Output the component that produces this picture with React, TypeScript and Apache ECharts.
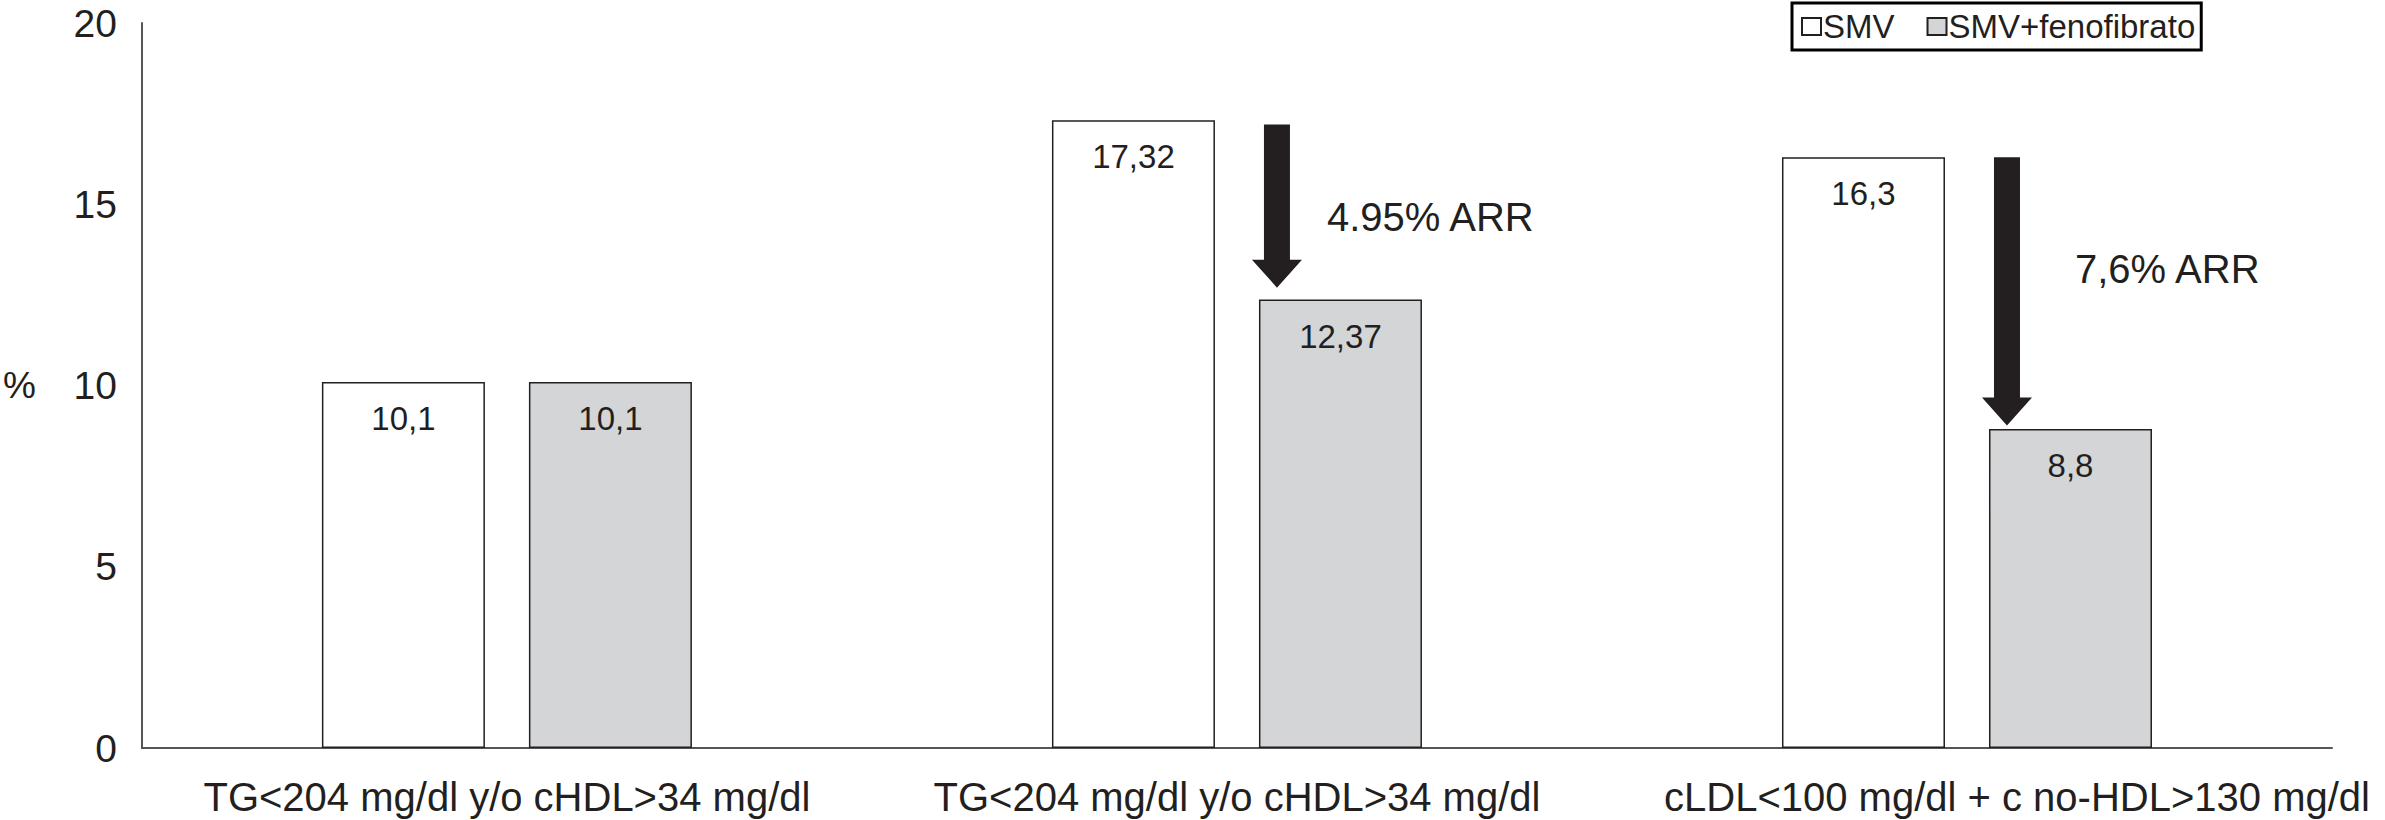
import React, { useEffect, useRef } from "react";
import * as echarts from "echarts";

const categories = [
  "TG<204 mg/dl y/o cHDL>34 mg/dl",
  "TG<204 mg/dl y/o cHDL>34 mg/dl",
  "cLDL<100 mg/dl + c no-HDL>130 mg/dl",
];
const seriesNames = ["SMV", "SMV+fenofibrato"];
const smvValues = [10.1, 17.32, 16.3];
const fenoValues = [10.1, 12.37, 8.8];
const arrowCategory = [1, 2];
const arrowFrom = [17.2, 16.3];
const arrowTo = [12.7, 8.9];
const arrowText = ["4.95% ARR", "7,6% ARR"];
const yTicks = [0, 5, 10, 15, 20];

const FONT = "'Liberation Sans', Arial, Helvetica, sans-serif";
const INK = "#231f20";

export default function App() {
  const ref = useRef<HTMLDivElement>(null);
  useEffect(() => {
    document.body.style.margin = "0";
    const chart = echarts.init(ref.current!, null, { renderer: "svg" });
    const arrowData = arrowCategory.map((c, i) => [c, arrowFrom[i], arrowTo[i], i]);
    const fmt = (p: any) => String(p.value).replace(".", ",");
    const xData = categories.map((c, i) =>
      i === categories.length - 1 ? { value: c, textStyle: { padding: [0, 0, 0, 100] } } : c
    );
    const valueLabel = {
      show: true,
      position: "insideTop",
      distance: 20,
      fontSize: 33,
      color: INK,
      fontFamily: FONT,
      formatter: fmt,
    };
    chart.setOption({
      animation: false,
      textStyle: { fontFamily: FONT },
      grid: { left: 141, right: 53, top: 23, bottom: 72, containLabel: false },
      legend: {
        left: 1792,
        top: 3,
        data: seriesNames,
        icon: "rect",
        itemWidth: 19,
        itemHeight: 17,
        itemGap: 32,
        padding: [7, 6, 7, 9],
        borderColor: "#000",
        borderWidth: 3,
        textStyle: { fontSize: 33, color: INK, fontFamily: FONT, padding: [0, 0, 0, -3] },
      },
      xAxis: {
        type: "category",
        data: xData,
        axisLine: { show: true, lineStyle: { color: "#555", width: 2 } },
        axisTick: { show: false },
        axisLabel: { fontSize: 40, color: INK, margin: 29, fontFamily: FONT, interval: 0 },
      },
      yAxis: {
        type: "value",
        min: yTicks[0],
        max: yTicks[yTicks.length - 1],
        interval: 5,
        name: "%",
        nameLocation: "middle",
        nameRotate: 0,
        nameGap: 106,
        nameTextStyle: { fontSize: 37, color: INK, fontFamily: FONT },
        axisLine: { show: true, lineStyle: { color: "#555", width: 2 } },
        axisTick: { show: false },
        splitLine: { show: false },
        axisLabel: { fontSize: 39, color: INK, margin: 25, fontFamily: FONT },
      },
      series: [
        {
          name: seriesNames[0],
          type: "bar",
          data: smvValues,
          barWidth: 163,
          barGap: "27%",
          itemStyle: { color: "#ffffff", borderColor: INK, borderWidth: 1.5 },
          label: valueLabel,
        },
        {
          name: seriesNames[1],
          type: "bar",
          data: fenoValues,
          barWidth: 163,
          barGap: "27%",
          itemStyle: { color: "#d4d5d7", borderColor: INK, borderWidth: 1.5 },
          label: valueLabel,
        },
        {
          type: "custom",
          coordinateSystem: "cartesian2d",
          data: arrowData,
          encode: { x: 0, y: 1 },
          clip: false,
          z: 10,
          silent: true,
          renderItem: (params: any, api: any) => {
            const top = api.coord([api.value(0), api.value(1)]);
            const tip = api.coord([api.value(0), api.value(2)]);
            const idx = api.value(3);
            const cx = top[0] + 40;
            const shaft = 13;
            const head = 25;
            const headH = 28;
            const ty = top[1];
            const py = tip[1];
            return {
              type: "group",
              children: [
                {
                  type: "polygon",
                  shape: {
                    points: [
                      [cx - shaft, ty],
                      [cx + shaft, ty],
                      [cx + shaft, py - headH],
                      [cx + head, py - headH],
                      [cx, py],
                      [cx - head, py - headH],
                      [cx - shaft, py - headH],
                    ],
                  },
                  style: { fill: INK },
                },
                {
                  type: "text",
                  x: cx + 50 + (idx === 1 ? 18 : 0),
                  y: ty + 92 + (idx === 1 ? 20 : 0),
                  style: {
                    text: arrowText[idx],
                    fontSize: 40,
                    fontFamily: FONT,
                    fill: INK,
                    textAlign: "left",
                    textVerticalAlign: "middle",
                  },
                },
              ],
            };
          },
        },
      ],
    });
    return () => chart.dispose();
  }, []);
  return <div ref={ref} style={{ width: 2385, height: 820 }} />;
}
